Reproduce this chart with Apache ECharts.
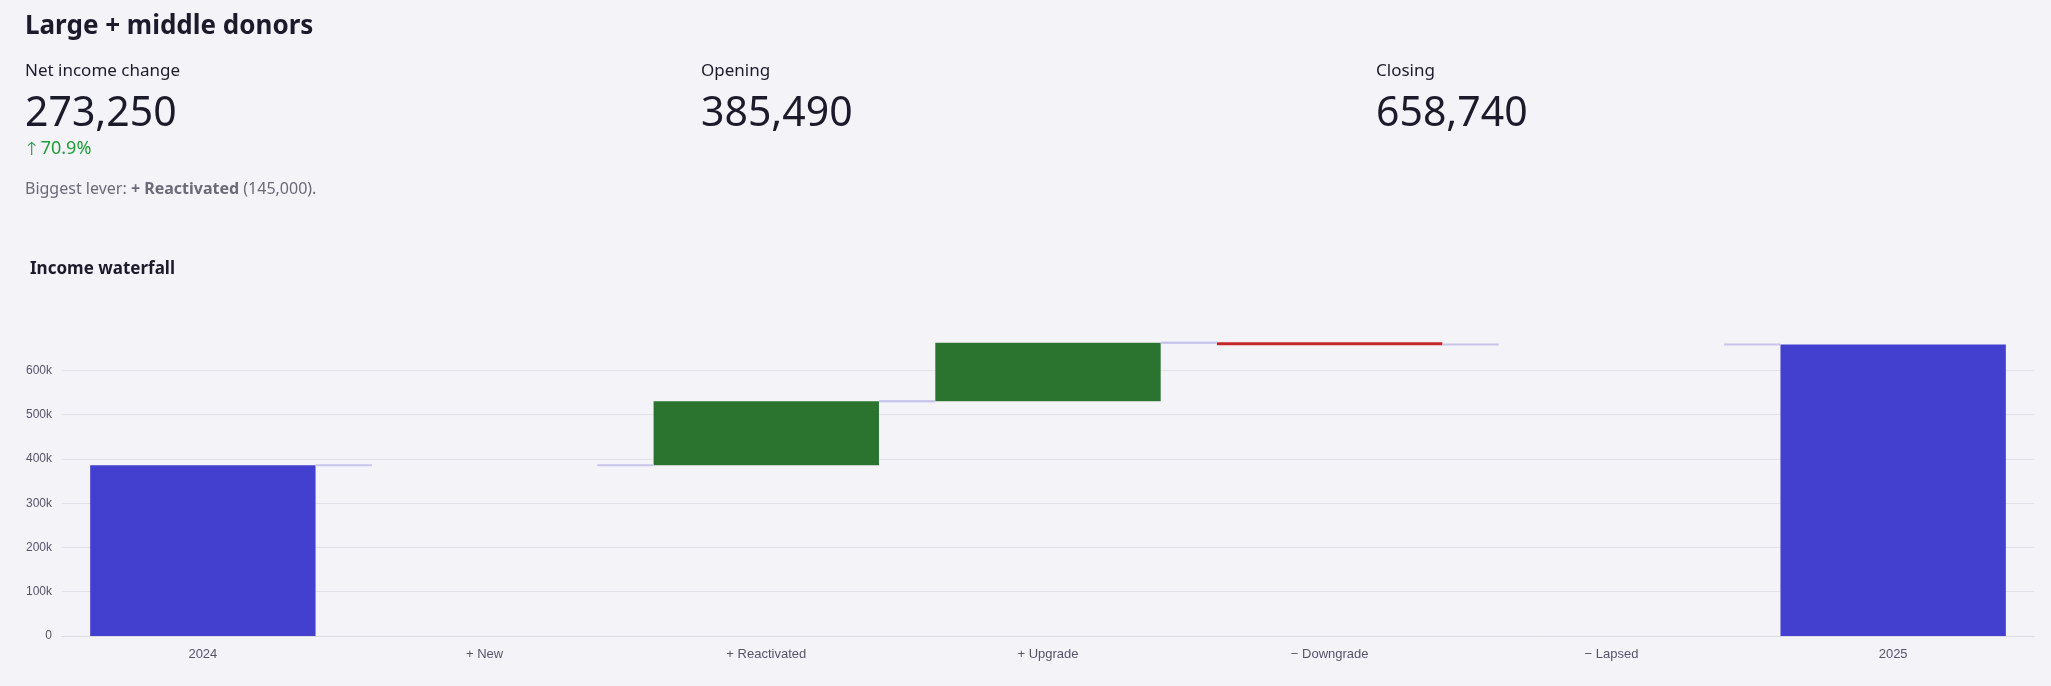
<!DOCTYPE html>
<html><head><meta charset="utf-8">
<script src="https://cdn.jsdelivr.net/npm/echarts@6/dist/echarts.min.js"></script>
<style>
html,body{margin:0;padding:0;background:#f4f3f8;font-family:"Source Sans Pro","Noto Sans",sans-serif;color:#1b1b2b;}
#wrap{position:relative;width:2051px;height:686px;overflow:hidden}
.t{position:absolute;white-space:nowrap}
#chart{position:absolute;left:0;top:0;width:2051px;height:686px}
</style></head><body><div id="wrap">
<div id="chart"></div>
<div class="t" style="left:25px;top:6px;font-size:26px;font-weight:700">Large + middle donors</div>
<div class="t" style="left:25px;top:58px;font-size:17px">Net income change</div>
<div class="t" style="left:25px;top:82px;font-size:41px">273,250</div>
<div class="t" style="left:27px;top:135px;font-size:18px;color:#1f9d3a">🡑&#xFE0E; 70.9%</div>
<div class="t" style="left:25px;top:177px;font-size:16px;color:#6b6b78">Biggest lever: <b>+ Reactivated</b> (145,000).</div>
<div class="t" style="left:701px;top:58px;font-size:17px">Opening</div>
<div class="t" style="left:701px;top:82px;font-size:41px">385,490</div>
<div class="t" style="left:1376px;top:58px;font-size:17px">Closing</div>
<div class="t" style="left:1376px;top:82px;font-size:41px">658,740</div>
<div class="t" style="left:30px;top:256px;font-size:17px;font-weight:700">Income waterfall</div>
</div>
<script>
const categories = ['2024','+ New','+ Reactivated','+ Upgrade','\u2212 Downgrade','\u2212 Lapsed','2025'];
const opening = 385490;
const changes = [0, 145000, 131750, -3500, 0];
const closing = 658740;

const items = [];
items.push([0, 0, opening, 'total']);
let run = opening;
changes.forEach((c,i)=>{ items.push([i+1, run, run+c, c>=0?'up':'down']); run += c; });
items.push([6, 0, closing, 'total']);
const colors = {total:'#4440cf', up:'#2a7430', down:'#c0282a'};
const conn = '#c9c5ec';

const chart = echarts.init(document.getElementById('chart'));
chart.setOption({
  animation:false,
  grid:{left:62,right:17,top:335,bottom:50,containLabel:false},
  xAxis:{type:'category',data:categories,axisTick:{show:false},
    axisLine:{lineStyle:{color:'#dcdbe3'}},
    axisLabel:{color:'#55556a',fontSize:13,margin:12}},
  yAxis:{type:'value',min:0,max:680000,interval:100000,
    axisLabel:{color:'#55556a',fontSize:12,margin:10,showMaxLabel:false,
      formatter:v=>v%100000?'':(v===0?'0':v/1000+'k')},
    splitLine:{showMaxLine:false,lineStyle:{color:'#e3e2ea'}}},
  series:[{type:'custom',data:items,encode:{x:0,y:[1,2]},
    renderItem:(params,api)=>{
      const i=api.value(0), a=api.value(1), b=api.value(2);
      const kind = items[params.dataIndex][3];
      if (a===b && kind!=='total') return null;
      const w = api.size([1,0])[0]*0.8;
      const p0 = api.coord([i,a]), p1 = api.coord([i,b]);
      const x = p0[0]-w/2;
      let y0=Math.min(p0[1],p1[1]), h=Math.abs(p1[1]-p0[1]);
      if (h<3){ y0=(p0[1]+p1[1])/2-1.5; h=3; }
      const ch=[{type:'rect',shape:{x:x,y:y0,width:w,height:h},style:{fill:colors[kind]}}];
      const stub=w*0.25;
      const start = kind==='total'?0:a, end=b;
      if (i>0){ const yy=api.coord([i,kind==='total'?b:start])[1];
        ch.push({type:'line',shape:{x1:x-stub,y1:yy,x2:x,y2:yy},style:{stroke:conn,lineWidth:2}}); }
      if (i<categories.length-1){ const yy=api.coord([i,end])[1];
        ch.push({type:'line',shape:{x1:x+w,y1:yy,x2:x+w+stub,y2:yy},style:{stroke:conn,lineWidth:2}}); }
      return {type:'group',children:ch};
    }}]
});
</script></body></html>
